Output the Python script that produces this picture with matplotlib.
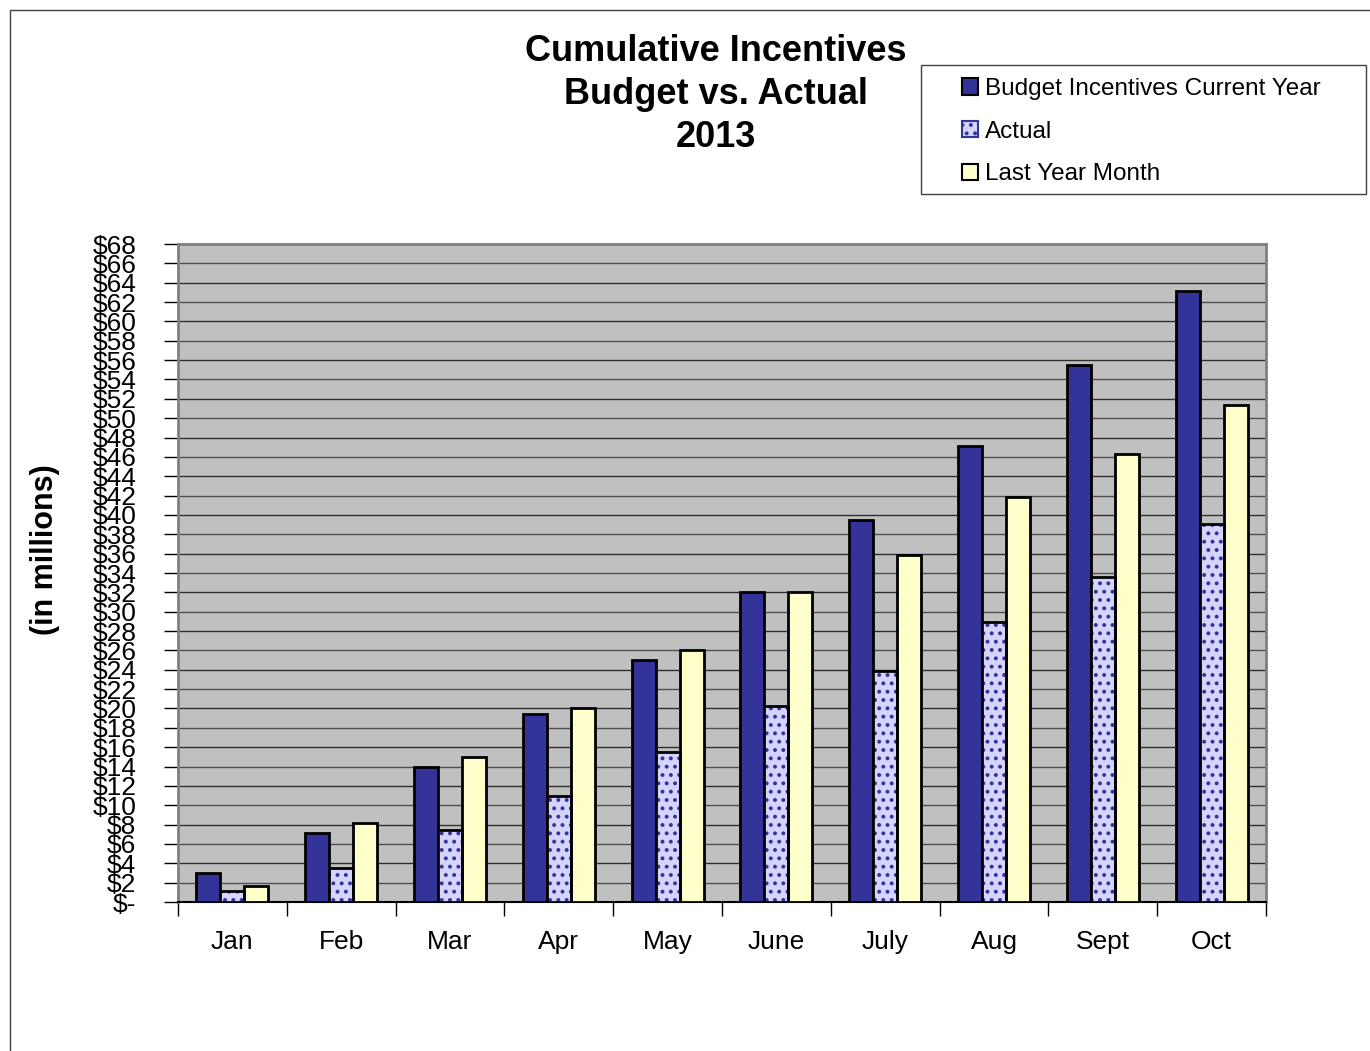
import matplotlib.pyplot as plt
import numpy as np
from matplotlib.patches import Patch, Rectangle

plt.rcParams['font.family'] = ['Liberation Sans', 'DejaVu Sans']
plt.rcParams['hatch.linewidth'] = 1.6

# data ($ millions)
months = ['Jan', 'Feb', 'Mar', 'Apr', 'May', 'June', 'July', 'Aug', 'Sept', 'Oct']
budget = [3.0, 7.1, 14.0, 19.4, 25.0, 32.0, 39.5, 47.1, 55.5, 63.1]
actual = [1.1, 3.5, 7.4, 11.0, 15.5, 20.3, 23.9, 28.9, 33.6, 39.1]
last_year = [1.7, 8.2, 15.0, 20.0, 26.0, 32.0, 35.9, 41.9, 46.3, 51.4]
yticks = list(range(0, 70, 2))

c_budget = '#333399'
c_actual = '#D4D4FF'
c_last = '#FFFFCC'

W, H = 1370, 1051
fig = plt.figure(figsize=(13.7, 10.51), dpi=100)
# outer chart frame
fig.patches.append(Rectangle((10 / W, -0.01), 1.2, 1 - 10 / H + 0.01,
                             transform=fig.transFigure, fill=False,
                             edgecolor='#404040', linewidth=1))

ax = fig.add_axes([178 / W, 1 - 902 / H, 1088 / W, 658 / H])
ax.set_facecolor('#C0C0C0')

x = np.arange(len(months))
w = 0.22
lw = 2.0

ax.bar(x - w, budget, w, color=c_budget, edgecolor='black', linewidth=lw, zorder=3)
# hatched actual bars: hatch in blue, outline drawn separately in black
ax.bar(x, actual, w, color=c_actual, edgecolor=c_budget, linewidth=0,
       hatch='..', zorder=3)
ax.bar(x, actual, w, fill=False, edgecolor='black', linewidth=lw, zorder=4)
ax.bar(x + w, last_year, w, color=c_last, edgecolor='black', linewidth=lw, zorder=3)

for i, v in enumerate(yticks[1:]):
    ax.axhline(v, color='#303030' if i % 2 else '#505050', linewidth=1, zorder=1)

ax.set_xlim(-0.5, len(months) - 0.5)
ax.set_ylim(0, 68)
ax.set_yticks(yticks)
ax.set_yticklabels(['$-' if v == 0 else '$%d' % v for v in yticks], fontsize=19)
ax.tick_params(axis='y', length=10, width=1, pad=20, direction='out')

ax.set_xticks(x)
ax.set_xticklabels(months, fontsize=19)
ax.tick_params(axis='x', which='major', length=0, pad=20)
ax.set_xticks(np.arange(len(months) + 1) - 0.5, minor=True)
ax.tick_params(axis='x', which='minor', length=10, width=1, direction='out')

for s in ['top', 'right', 'left']:
    ax.spines[s].set_color('#808080')
    ax.spines[s].set_linewidth(2)
ax.spines['bottom'].set_color('black')
ax.spines['bottom'].set_linewidth(1.5)

fig.text(716 / W, 1 - 34 / H, 'Cumulative Incentives\nBudget vs. Actual\n2013',
         ha='center', va='top', fontsize=26, fontweight='bold', linespacing=1.3)
fig.text(45 / W, 1 - 550 / H, '(in millions)', rotation=90, ha='center',
         va='center', fontsize=22, fontweight='bold')

# legend: frame drawn by hand so the left padding can match
fig.patches.append(Rectangle((921 / W, 1 - 194 / H), 445 / W, 129 / H,
                             transform=fig.transFigure, fill=False,
                             edgecolor='#404040', linewidth=1))
handles = [Patch(facecolor=c_budget, edgecolor='black', linewidth=1.5),
           Patch(facecolor=c_actual, edgecolor=c_budget, hatch='..', linewidth=1.5),
           Patch(facecolor=c_last, edgecolor='black', linewidth=1.5)]
labels = ['Budget Incentives Current Year', 'Actual', 'Last Year Month']
fig.legend(handles, labels, loc='upper left',
           bbox_to_anchor=(962 / W, 1 - 78 / H), fontsize=17.5,
           frameon=False, handlelength=0.65, handleheight=0.65,
           handletextpad=0.3, labelspacing=0.85, borderpad=0,
           borderaxespad=0)

fig.savefig('out.png', dpi=100)
